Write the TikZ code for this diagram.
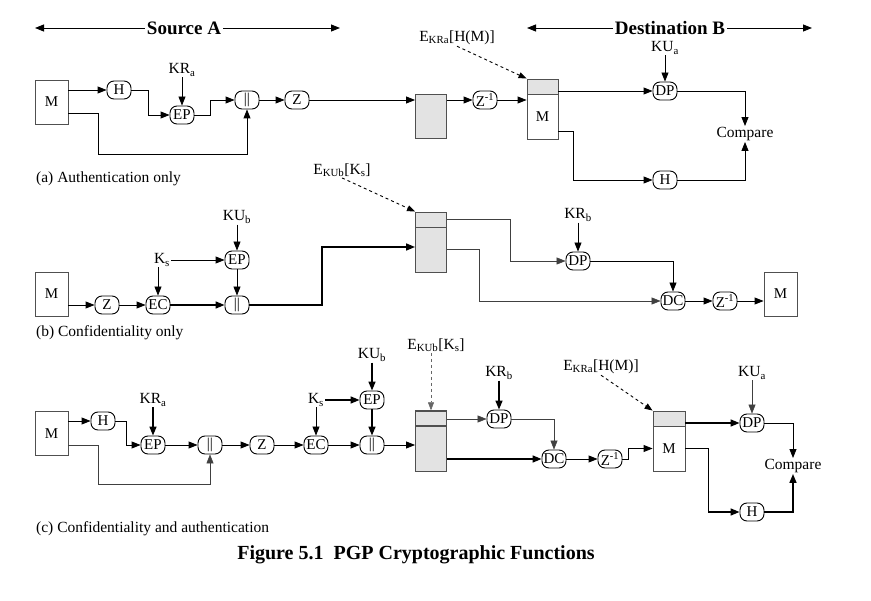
\documentclass[tikz,border=0pt]{standalone}
\usepackage{fontspec}
\setmainfont{Liberation Serif}
\usetikzlibrary{arrows.meta}
\definecolor{PktGray}{RGB}{227,227,227}
\definecolor{EdgeGray}{RGB}{80,80,80}

\begin{document}
\begin{tikzpicture}[
    x=1pt, y=-1pt,
    every node/.style={font=\fontsize{15.5}{17}\selectfont, inner sep=1pt},
    fn/.style={draw, line width=0.9pt, rounded corners=7pt, minimum width=24pt,
               minimum height=18pt, inner sep=1.2pt, font=\fontsize{15}{15}\selectfont},
    msg/.style={draw=EdgeGray, line width=0.9pt, minimum width=33pt, minimum height=44pt,
                inner sep=0pt, font=\fontsize{15}{15}\selectfont},
    sig/.style={draw=EdgeGray, fill=PktGray, line width=0.9pt, minimum width=31pt,
                minimum height=15pt, inner sep=0pt},
    body/.style={draw=EdgeGray, line width=0.9pt, minimum width=31pt, minimum height=45pt,
                 inner sep=0pt, font=\fontsize{15}{15}\selectfont},
    flow/.style={-{Triangle[length=9pt,width=7pt]}, line width=0.9pt},
    heavy/.style={flow, line width=1.6pt},
    light/.style={flow, line width=0.6pt, draw=black!75},
    hint/.style={-{Triangle[length=8pt,width=6pt]}, dashed, line width=0.9pt},
    head/.style={font=\fontsize{19}{21}\selectfont\bfseries, fill=white, inner sep=2pt}
]
\fill[white] (0,0) rectangle (871,601);
\useasboundingbox (0,0) rectangle (871,601);

% headers
\coordinate (srcL) at (35,28);
\coordinate (srcR) at (340,28);
\node[head] (src) at (184,28) {Source A};
\draw[flow] (src) -- (srcL);
\draw[flow] (src) -- (srcR);
\coordinate (dstL) at (527,28);
\coordinate (dstR) at (812,28);
\node[head] (dst) at (670,28) {Destination B};
\draw[flow] (dst) -- (dstL);
\draw[flow] (dst) -- (dstR);

% (a) authentication only
\node[msg] (mA) at (51.5,102) {M};
\node[fn] (hA) at (119,90) {H};
\node (kraA) at (182,70) {KR\textsubscript{a}};
\node[fn] (epA) at (182,115) {EP};
\node[fn] (catA) at (247,100) {\textbar\textbar};
\node[fn] (zA) at (297,100) {Z};
\node[body, fill=PktGray, minimum height=44pt] (pktA) at (431,116.5) {};
\node[fn] (zinvA) at (485,100) {Z\textsuperscript{-1}};
\node[sig] (sigA) at (542.5,86.5) {};
\node[body] (bodyA) at (542.5,116.5) {M};
\node (ekraA) at (457,38) {E\textsubscript{KRa}[H(M)]};
\node (kuaA) at (665,48) {KU\textsubscript{a}};
\node[fn] (dpA) at (665,91) {DP};
\node (cmpA) at (745,134) {Compare};
\node[fn] (hA2) at (665,180) {H};
\node[anchor=west] (capA) at (35,179) {(a) Authentication only};
\coordinate (a1) at (98,154);

\draw[flow] (mA.east |- hA) -- (hA);
\draw[flow] (hA.east) -- ++(17,0) |- (epA.west);
\draw[flow] (kraA) -- (epA);
\draw[flow] (epA.east) -- ++(16,0) |- (catA.west);
\draw[flow] ([yshift=-11pt]mA.east) -| (a1) -| (catA.south);
\draw[flow] (catA) -- (zA);
\draw[flow] (zA) -- (pktA.west |- zA);
\draw[flow] (pktA.east |- zinvA) -- (zinvA);
\draw[flow] (zinvA) -- (bodyA.west |- zinvA);
\draw[hint] (ekraA.south) -- (sigA.north west);
\draw[flow] (kuaA) -- (dpA);
\draw[flow] (sigA.east |- dpA) -- (dpA);
\draw[flow] (dpA) -| (cmpA.north);
\draw[flow] ([yshift=-15pt]bodyA.east) -- ++(15,0) |- (hA2);
\draw[flow] (hA2) -| (cmpA.south);

% (b) confidentiality only
\node[msg] (mB) at (51.5,294) {M};
\node[fn] (zB) at (107,305) {Z};
\node[fn] (ecB) at (158,305) {EC};
\node (ksB) at (162,260) {K\textsubscript{s}};
\node (kubB) at (237,217) {KU\textsubscript{b}};
\node[fn] (epB) at (237,260) {EP};
\node[fn] (catB) at (237,305) {\textbar\textbar};
\node[sig] (keyB) at (431,219.5) {};
\node[body, fill=PktGray] (dataB) at (431,249.5) {};
\node (ekubB) at (342,170) {E\textsubscript{KUb}[K\textsubscript{s}]};
\node (krbB) at (578,215) {KR\textsubscript{b}};
\node[fn] (dpB) at (578,261) {DP};
\node[fn] (dcB) at (673,301) {DC};
\node[fn] (zinvB) at (725,301) {Z\textsuperscript{-1}};
\node[msg] (mB2) at (780.5,294) {M};
\node[anchor=west] (capB) at (35,333) {(b) Confidentiality only};
\coordinate (b1) at (322,247);

\draw[flow] (mB.east |- zB) -- (zB);
\draw[flow] (zB) -- (ecB);
\draw[flow] (ecB |- ksB.south) -- (ecB);
\draw[flow] (ksB) -- (epB);
\draw[flow] (kubB) -- (epB);
\draw[flow] (epB) -- (catB);
\draw[heavy] (ecB) -- (catB);
\draw[heavy] (catB) -| (b1) -- (dataB.west |- b1);
\draw[hint] (ekubB.south) -- (keyB.north west);
\draw[light] (keyB.east) -- ++(63,0) |- (dpB.west);
\draw[flow] (krbB) -- (dpB);
\draw[light] (dataB.east) -- ++(32,0) |- (dcB.west);
\draw[flow] (dpB) -| (dcB.north);
\draw[flow] (dcB) -- (zinvB);
\draw[flow] (zinvB) -- (mB2.west |- zinvB);

% (c) confidentiality and authentication
\node[msg] (mC) at (51.5,433.5) {M};
\node[fn] (hC) at (103,421) {H};
\node (kraC) at (153,400) {KR\textsubscript{a}};
\node[fn] (epC) at (153,445) {EP};
\node[fn] (catC) at (210,445) {\textbar\textbar};
\node[fn] (zC) at (262,445) {Z};
\node[fn] (ecC) at (316,445) {EC};
\node (ksC) at (316,400) {K\textsubscript{s}};
\node (kubC) at (372,355) {KU\textsubscript{b}};
\node[fn] (epC2) at (372,400) {EP};
\node[fn] (catC2) at (372,445) {\textbar\textbar};
\node[sig, line width=1.4pt] (keyC) at (431,418.5) {};
\node[body, fill=PktGray] (dataC) at (431,448.5) {};
\node (ekubC) at (436,345) {E\textsubscript{KUb}[K\textsubscript{s}]};
\node (krbC) at (499,373) {KR\textsubscript{b}};
\node[fn] (dpC) at (499,419) {DP};
\node[fn] (dcC) at (554,459) {DC};
\node[fn] (zinvC) at (610,459) {Z\textsuperscript{-1}};
\node[sig, minimum width=32pt] (sigC) at (669,418.5) {};
\node[body, minimum width=32pt] (bodyC) at (669,448.5) {M};
\node (ekraC) at (601,367) {E\textsubscript{KRa}[H(M)]};
\node (kuaC) at (752,373) {KU\textsubscript{a}};
\node[fn] (dpC2) at (752,423) {DP};
\node (cmpC) at (793,466) {Compare};
\node[fn] (hC2) at (752,512) {H};
\node[anchor=west] (capC) at (35,529) {(c) Confidentiality and authentication};
\coordinate (c1) at (98,484);

\draw[flow] (mC.east |- hC) -- (hC);
\draw[flow] (hC.east) -- ++(11,0) |- (epC.west);
\draw[heavy] (kraC) -- (epC);
\draw[flow] (epC) -- (catC);
\draw[light] ([yshift=-11.5pt]mC.east) -| (c1) -| (catC.south);
\draw[flow] (catC) -- (zC);
\draw[flow] (zC) -- (ecC);
\draw[flow] (ksC) -- (ecC);
\draw[heavy] (ksC) -- (epC2);
\draw[heavy] (kubC) -- (epC2);
\draw[heavy] (epC2) -- (catC2);
\draw[flow] (ecC) -- (catC2);
\draw[flow] (catC2) -- (dataC.west |- catC2);
\draw[hint, line width=0.5pt, draw=black!60] (keyC.north |- ekubC.south) -- (keyC.north);
\draw[light] (keyC.east |- dpC) -- (dpC);
\draw[heavy] (krbC) -- (dpC);
\draw[light] (dpC) -| (dcC.north);
\draw[heavy] (dataC.east |- dcC) -- (dcC);
\draw[flow] (dcC) -- (zinvC);
\draw[flow] (zinvC.east) -- ++(6,0) |- (bodyC.west);
\draw[hint] (ekraC.south) -- (sigC.north west);
\draw[heavy] (sigC.east |- dpC2) -- (dpC2);
\draw[light] (kuaC) -- (dpC2);
\draw[flow] (dpC2) -| (cmpC.north);
\draw[heavy] (bodyC.east) -- ++(23,0) |- (hC2);
\draw[heavy] (hC2) -| (cmpC.south);

\node[font=\fontsize{20}{22}\selectfont\bfseries] (fig) at (416,555) {Figure 5.1\ \ PGP Cryptographic Functions};
\end{tikzpicture}
\end{document}
